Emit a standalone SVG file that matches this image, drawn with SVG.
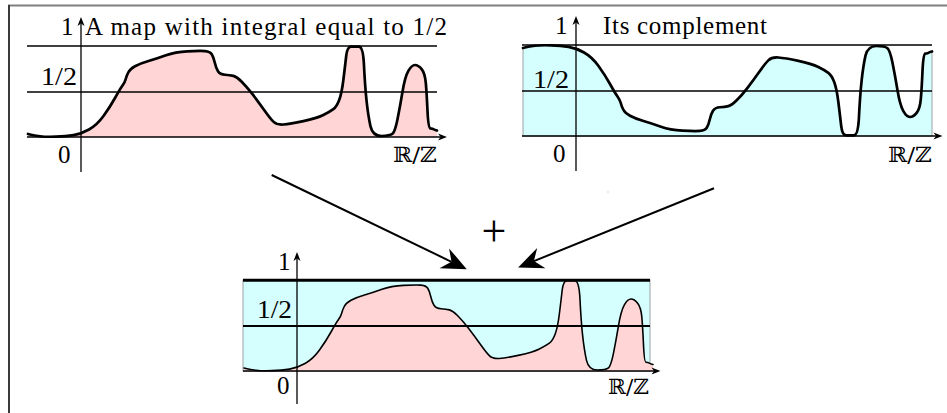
<svg xmlns="http://www.w3.org/2000/svg" xmlns:xlink="http://www.w3.org/1999/xlink" width="947" height="413" viewBox="0 0 947 413">
<style>
.lbl{font-family:"Liberation Serif","Times New Roman",serif;font-size:25px;fill:#000}
.rz{font-family:"DejaVu Serif","DejaVu Sans",serif;font-size:21px;fill:#000}
.grid{stroke:#000;stroke-width:1.3;fill:none}
.axis{stroke:#000;stroke-width:1.3;fill:none;marker-end:url(#ah)}
.pink{fill:#ffd5d5;stroke:none}
.cyan{fill:#d5ffff;stroke:#8a8a8a;stroke-width:0.8}
.curve{fill:none;stroke:#000;stroke-width:2.7;stroke-linejoin:round;stroke-linecap:round}
.curve-thin{fill:none;stroke:#000;stroke-width:1.6;stroke-linejoin:round;stroke-linecap:round}
.conn{stroke:#000;stroke-width:2;fill:none;marker-end:url(#big)}
</style>
<defs>
<marker id="big" markerUnits="userSpaceOnUse" markerWidth="30" markerHeight="30" refX="8" refY="0" orient="auto" overflow="visible"><path d="M0,-11 L25,0 L0,11 L8,0 Z" fill="#000"/></marker>
<marker id="ah" markerUnits="userSpaceOnUse" markerWidth="12" markerHeight="10" refX="2.5" refY="0" orient="auto" overflow="visible"><path d="M0,-3.5 L9,0 L0,3.5 L2.5,0 Z" fill="#000"/></marker>
<path id="fcurve" d="M28,134 L31,134.75 Q34,135.5 40,136.25 Q46,137 56,136.65 Q66,136.3 73.5,135.15 Q81,134 89,129.5 Q97,125 103.5,116 Q110,107 115,98 Q120,89 122.5,85.5 Q125,82 125.75,79 Q126.5,76 128.25,72.5 Q130,69 135,66.25 Q140,63.5 148.5,61 Q157,58.5 166,55.25 Q175,52 187.5,51.35 Q200,50.7 205,51.1 Q210,51.5 211.75,54.25 Q213.5,57 214.75,62.5 Q216,68 218,71.25 Q220,74.5 225,74.75 Q230,75 233.35,75.85 Q236.7,76.7 241.7,81.7 Q246.7,86.7 252.5,94.2 Q258.3,101.7 264.15,110 Q270,118.3 273.35,121.65 Q276.7,125 283.35,124.5 Q290,124 303.35,121.15 Q316.7,118.3 323.35,115 Q330,111.7 333.35,109.2 Q336.7,106.7 339.2,100 Q341.7,93.3 343.35,80 Q345,66.7 346.2,56 Q347.3,46.7 351,46.7 L359,46.7 Q362.7,46.7 363.8,62 Q365,86.7 366.65,101.7 Q368.3,116.7 370.5,126.35 Q372.7,136 381.35,136 Q390,136 392.5,133.85 Q395,131.7 397.5,119.2 Q400,106.7 402.5,91.7 Q405,76.7 408.35,70.85 Q411.7,65 415,65 Q418.3,65 421.65,69.15 Q425,73.3 425.85,83.3 Q426.7,93.3 427.5,110.8 Q428.3,128.3 430,128.3 Q431.7,128.3 433.35,129.15 Q435,130 436,130.25 L437,130.5"/>
<path id="below" d="M28,134 L31,134.75 Q34,135.5 40,136.25 Q46,137 56,136.65 Q66,136.3 73.5,135.15 Q81,134 89,129.5 Q97,125 103.5,116 Q110,107 115,98 Q120,89 122.5,85.5 Q125,82 125.75,79 Q126.5,76 128.25,72.5 Q130,69 135,66.25 Q140,63.5 148.5,61 Q157,58.5 166,55.25 Q175,52 187.5,51.35 Q200,50.7 205,51.1 Q210,51.5 211.75,54.25 Q213.5,57 214.75,62.5 Q216,68 218,71.25 Q220,74.5 225,74.75 Q230,75 233.35,75.85 Q236.7,76.7 241.7,81.7 Q246.7,86.7 252.5,94.2 Q258.3,101.7 264.15,110 Q270,118.3 273.35,121.65 Q276.7,125 283.35,124.5 Q290,124 303.35,121.15 Q316.7,118.3 323.35,115 Q330,111.7 333.35,109.2 Q336.7,106.7 339.2,100 Q341.7,93.3 343.35,80 Q345,66.7 346.2,56 Q347.3,46.7 351,46.7 L359,46.7 Q362.7,46.7 363.8,62 Q365,86.7 366.65,101.7 Q368.3,116.7 370.5,126.35 Q372.7,136 381.35,136 Q390,136 392.5,133.85 Q395,131.7 397.5,119.2 Q400,106.7 402.5,91.7 Q405,76.7 408.35,70.85 Q411.7,65 415,65 Q418.3,65 421.65,69.15 Q425,73.3 425.85,83.3 Q426.7,93.3 427.5,110.8 Q428.3,128.3 430,128.3 Q431.7,128.3 433.35,129.15 Q435,130 436,130.25 L437,130.5 L437,137 L28,137 Z"/>
<path id="above" d="M28,134 L31,134.75 Q34,135.5 40,136.25 Q46,137 56,136.65 Q66,136.3 73.5,135.15 Q81,134 89,129.5 Q97,125 103.5,116 Q110,107 115,98 Q120,89 122.5,85.5 Q125,82 125.75,79 Q126.5,76 128.25,72.5 Q130,69 135,66.25 Q140,63.5 148.5,61 Q157,58.5 166,55.25 Q175,52 187.5,51.35 Q200,50.7 205,51.1 Q210,51.5 211.75,54.25 Q213.5,57 214.75,62.5 Q216,68 218,71.25 Q220,74.5 225,74.75 Q230,75 233.35,75.85 Q236.7,76.7 241.7,81.7 Q246.7,86.7 252.5,94.2 Q258.3,101.7 264.15,110 Q270,118.3 273.35,121.65 Q276.7,125 283.35,124.5 Q290,124 303.35,121.15 Q316.7,118.3 323.35,115 Q330,111.7 333.35,109.2 Q336.7,106.7 339.2,100 Q341.7,93.3 343.35,80 Q345,66.7 346.2,56 Q347.3,46.7 351,46.7 L359,46.7 Q362.7,46.7 363.8,62 Q365,86.7 366.65,101.7 Q368.3,116.7 370.5,126.35 Q372.7,136 381.35,136 Q390,136 392.5,133.85 Q395,131.7 397.5,119.2 Q400,106.7 402.5,91.7 Q405,76.7 408.35,70.85 Q411.7,65 415,65 Q418.3,65 421.65,69.15 Q425,73.3 425.85,83.3 Q426.7,93.3 427.5,110.8 Q428.3,128.3 430,128.3 Q431.7,128.3 433.35,129.15 Q435,130 436,130.25 L437,130.5 L437,46 L28,46 Z"/>
</defs>
<rect x="0" y="0" width="947" height="413" fill="#fff"/>
<g id="frame">
<line x1="8" y1="5.5" x2="947" y2="5.5" stroke="#808080" stroke-width="2"/>
<line x1="9" y1="5" x2="9" y2="413" stroke="#3a3a3a" stroke-width="2"/>
</g>
<g id="plot-f">
<use xlink:href="#below" class="pink"/>
<line class="grid" x1="27" y1="46" x2="437" y2="46"/>
<line class="grid" x1="27" y1="92" x2="437" y2="92"/>
<line class="axis" x1="27" y1="137" x2="440.5" y2="137"/>
<line class="axis" x1="81" y1="172" x2="81" y2="23.5"/>
<use xlink:href="#fcurve" class="curve"/>
<text class="lbl" x="61" y="35" font-family="Liberation Serif, serif">1</text>
<text class="lbl" x="85" y="35" textLength="362" lengthAdjust="spacing" font-family="Liberation Serif, serif">A map with integral equal to 1/2</text>
<text class="lbl" x="41" y="85" textLength="36" lengthAdjust="spacingAndGlyphs" font-family="Liberation Serif, serif">1/2</text>
<text class="lbl" x="58" y="163" font-family="Liberation Serif, serif">0</text>
<text class="rz" x="393" y="162" textLength="44" lengthAdjust="spacingAndGlyphs">ℝ/ℤ</text>
</g>
<g id="plot-complement">
<g transform="translate(495,-1)">
<use xlink:href="#above" class="cyan" transform="matrix(1,0,0,-1,0,183)"/>
<line class="grid" x1="27" y1="46" x2="437" y2="46"/>
<line class="grid" x1="27" y1="92" x2="437" y2="92"/>
<line class="axis" x1="27" y1="137" x2="441" y2="137"/>
<line class="axis" x1="81" y1="172" x2="81" y2="23.5"/>
<use xlink:href="#fcurve" class="curve" transform="matrix(1,0,0,-1,0,183)"/>
</g>
<text class="lbl" x="555" y="34" font-family="Liberation Serif, serif">1</text>
<text class="lbl" x="603" y="34" textLength="164" lengthAdjust="spacing" font-family="Liberation Serif, serif">Its complement</text>
<text class="lbl" x="533" y="88" textLength="36" lengthAdjust="spacingAndGlyphs" font-family="Liberation Serif, serif">1/2</text>
<text class="lbl" x="553" y="162" font-family="Liberation Serif, serif">0</text>
<text class="rz" x="888" y="162" textLength="44" lengthAdjust="spacingAndGlyphs">ℝ/ℤ</text>
</g>
<g id="plus">
<text x="494" y="246" text-anchor="middle" style="font-family:'Liberation Serif','Times New Roman',serif;font-size:44px">+</text>
</g>
<g id="plot-sum">
<g transform="translate(216,234)">
<rect x="27" y="46" width="407" height="91" class="cyan"/>
<use xlink:href="#below" class="pink"/>
<line x1="27" y1="92" x2="434" y2="92" stroke="#000" stroke-width="2"/>
<line x1="27" y1="46.3" x2="434" y2="46.3" stroke="#000" stroke-width="3"/>
<line class="axis" x1="27" y1="137" x2="438" y2="137"/>
<line class="axis" x1="81" y1="170" x2="81" y2="24.5"/>
<use xlink:href="#fcurve" class="curve-thin"/>
</g>
<text class="lbl" x="278" y="270" font-family="Liberation Serif, serif">1</text>
<text class="lbl" x="257" y="318" textLength="35" lengthAdjust="spacingAndGlyphs" font-family="Liberation Serif, serif">1/2</text>
<text class="lbl" x="277" y="394" font-family="Liberation Serif, serif">0</text>
<text class="rz" x="608" y="394" textLength="41" lengthAdjust="spacingAndGlyphs">ℝ/ℤ</text>
</g>
<g id="connectors">
<line class="conn" x1="271.7" y1="175" x2="451.5" y2="261.8"/>
<line class="conn" x1="714" y1="188.3" x2="533.9" y2="261.1"/>
</g>
<rect x="607.5" y="191.5" width="1" height="1" fill="#aaa"/>
</svg>
